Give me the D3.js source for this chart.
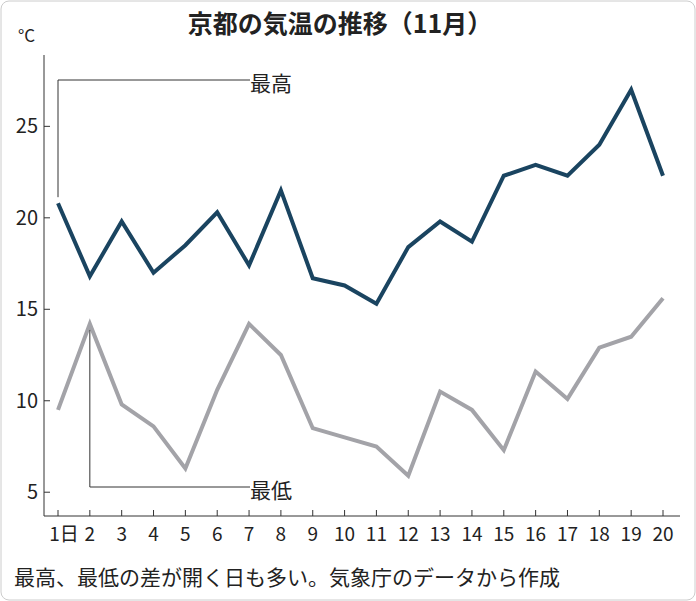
<!DOCTYPE html>
<html><head><meta charset="utf-8">
<script src="https://cdn.jsdelivr.net/npm/d3@7"></script>
<style>
body{margin:0;background:#fff;}
text{font-family:"Noto Sans CJK JP","Noto Sans",sans-serif;fill:#222;}
</style></head>
<body><svg id="chart" width="696" height="601"></svg>
<script>
// 京都の気温 11月
var days = ["1日","2","3","4","5","6","7","8","9","10","11","12","13","14","15","16","17","18","19","20"];
var highs = [20.8,16.8,19.8,17.0,18.5,20.3,17.4,21.5,16.7,16.3,15.3,18.4,19.8,18.7,22.3,22.9,22.3,24.0,27.0,22.3];
var lows = [9.5,14.2,9.8,8.6,6.3,10.6,14.2,12.5,8.5,8.0,7.5,5.9,10.5,9.5,7.3,11.6,10.1,12.9,13.5,15.6];
var yTicks = [5,10,15,20,25];

var svg = d3.select("#chart");

svg.append("rect").attr("x",1).attr("y",1).attr("width",694).attr("height",599)
    .attr("rx",8).attr("fill","#fff").attr("stroke","#ccc");

var x = d3.scalePoint().domain(d3.range(days.length)).range([58,663]);
var y = d3.scaleLinear().domain([3.7,28.9]).range([516,55]);

svg.append("text").attr("x",340).attr("y",33).attr("text-anchor","middle")
    .attr("font-size",25).attr("font-weight","bold").text("京都の気温の推移（11月）");
svg.append("text").attr("x",18).attr("y",42).attr("font-size",17).text("°C");

// axes
svg.append("line").attr("x1",44).attr("x2",44).attr("y1",55).attr("y2",516).attr("stroke","#333");
svg.append("line").attr("x1",44).attr("x2",680).attr("y1",516).attr("y2",516).attr("stroke","#333");

yTicks.forEach(function(t){
    svg.append("line").attr("x1",44).attr("x2",50).attr("y1",y(t)).attr("y2",y(t)).attr("stroke","#333");
    svg.append("text").attr("x",38).attr("y",y(t)+7).attr("text-anchor","end").attr("font-size",20).text(t);
});
days.forEach(function(d,i){
    svg.append("line").attr("x1",x(i)).attr("x2",x(i)).attr("y1",510).attr("y2",516).attr("stroke","#333");
    svg.append("text").attr("x",i==0?x(i)+6:x(i)).attr("y",541).attr("text-anchor","middle").attr("font-size",19).text(d);
});

var line = d3.line().x(function(d,i){return x(i);}).y(function(d){return y(d);});
svg.append("path").datum(lows).attr("d",line).attr("fill","none").attr("stroke","#a3a3a8").attr("stroke-width",4);
svg.append("path").datum(highs).attr("d",line).attr("fill","none").attr("stroke","#1a4460").attr("stroke-width",4);

// callouts
svg.append("path").attr("d","M"+x(0)+","+(y(highs[0])-6)+"V80H250").attr("fill","none").attr("stroke","#333");
svg.append("text").attr("x",250).attr("y",91).attr("font-size",21).text("最高");
svg.append("path").attr("d","M"+x(1)+","+(y(lows[1])+6)+"V487H250").attr("fill","none").attr("stroke","#333");
svg.append("text").attr("x",250).attr("y",498).attr("font-size",21).text("最低");

svg.append("text").attr("x",14).attr("y",585).attr("font-size",21)
    .text("最高、最低の差が開く日も多い。気象庁のデータから作成");
</script></body></html>
